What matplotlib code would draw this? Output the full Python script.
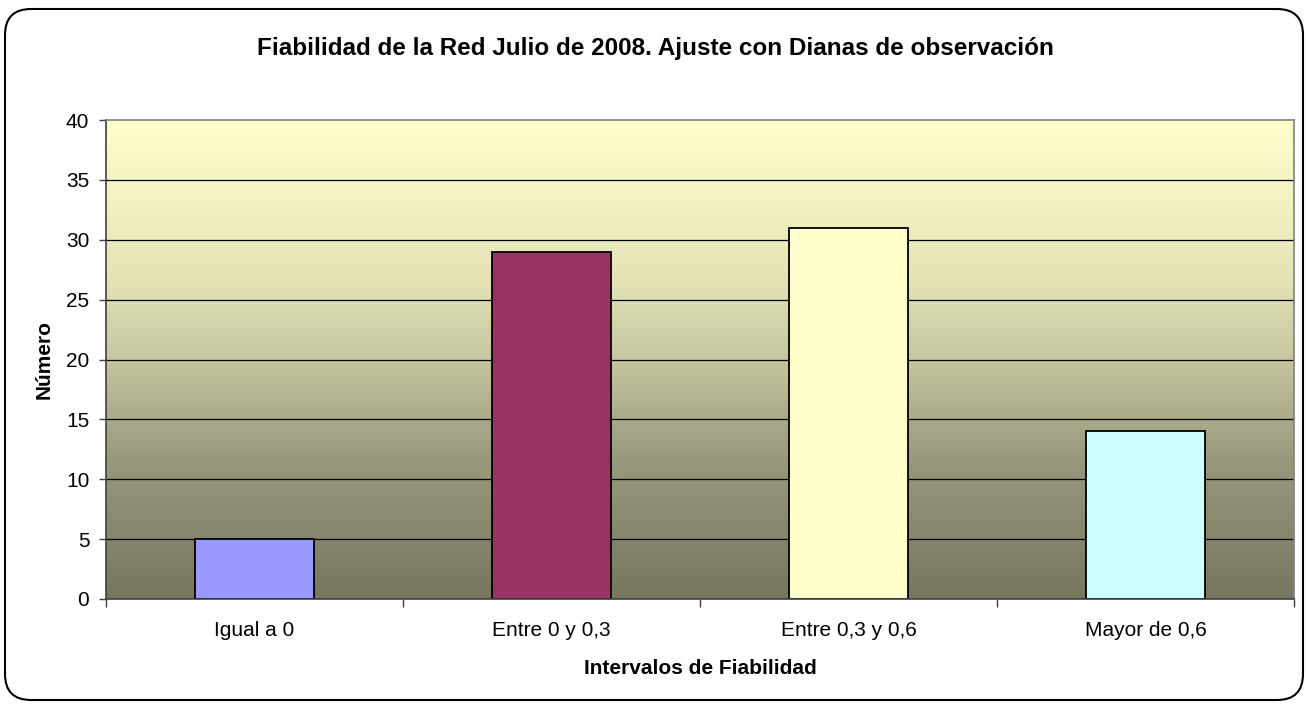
import numpy as np
import matplotlib.pyplot as plt
from matplotlib.patches import FancyBboxPatch
from matplotlib.colors import LinearSegmentedColormap
from matplotlib.transforms import IdentityTransform

plt.rcParams['font.family'] = ['Liberation Sans', 'DejaVu Sans']

categories = ['Igual a 0', 'Entre 0 y 0,3', 'Entre 0,3 y 0,6', 'Mayor de 0,6']
values = [5, 29, 31, 14]
bar_colors = ['#9999FF', '#993366', '#FFFFCC', '#CCFFFF']
yticks = [0, 5, 10, 15, 20, 25, 30, 35, 40]

W, H = 1306, 704
fig = plt.figure(figsize=(W / 100, H / 100), dpi=100)
fig.patch.set_facecolor('white')

# rounded outer frame (pixel coords)
frame = FancyBboxPatch((5 + 26, 4 + 26), 1298 - 52, 691 - 52,
                       boxstyle='round,pad=26', transform=IdentityTransform(),
                       facecolor='white', edgecolor='black', linewidth=1.5, zorder=-5)
fig.patches.append(frame)

ax = fig.add_axes([106 / W, (H - 599) / H, (1294 - 106) / W, (599 - 120) / H])
ax.set_zorder(1)

# gradient background of the plot area
cmap = LinearSegmentedColormap.from_list(
    'bg', [(0.0, '#777760'), (0.3, '#9A9A7F'), (0.5, '#C6C6A0'),
           (0.665, '#E3E3B6'), (1.0, '#FFFFCC')])
grad = np.linspace(0, 1, 256).reshape(-1, 1)
ax.imshow(grad, cmap=cmap, aspect='auto', origin='lower',
          extent=[-0.5, 3.5, 0, 40], zorder=0)

x = np.arange(len(categories))
for yv in yticks[1:-1]:
    ax.axhline(yv, color='black', linewidth=0.9, zorder=1)
ax.bar(x, values, width=0.40, color=bar_colors, edgecolor='black', linewidth=1.3, zorder=2)

ax.set_xlim(-0.5, 3.5)
ax.set_ylim(0, 40)
ax.set_yticks(yticks)
ax.set_yticklabels([str(v) for v in yticks], fontsize=15)
ax.set_xticks(x)
ax.set_xticklabels(categories, fontsize=15)
ax.tick_params(axis='x', length=0, pad=15.5)
ax.set_xticks(np.arange(-0.5, 4.0, 1.0), minor=True)
ax.tick_params(axis='x', which='minor', length=6, color='#404040', width=1)
ax.tick_params(axis='y', length=5, color='#404040', width=1, pad=7)

for s in ['top', 'right']:
    ax.spines[s].set_color('#808080')
    ax.spines[s].set_linewidth(1.2)
for s in ['left', 'bottom']:
    ax.spines[s].set_color('#404040')
    ax.spines[s].set_linewidth(1.2)

ax.set_xlabel('Intervalos de Fiabilidad', fontsize=15, fontweight='bold', labelpad=14)
ax.set_ylabel('Número', fontsize=15, fontweight='bold', labelpad=9)
fig.text(655 / W, 1 - 55 / H, 'Fiabilidad de la Red Julio de 2008. Ajuste con Dianas de observación',
         ha='center', va='baseline', fontsize=17.5, fontweight='bold')

fig.savefig('out.png', dpi=100)
